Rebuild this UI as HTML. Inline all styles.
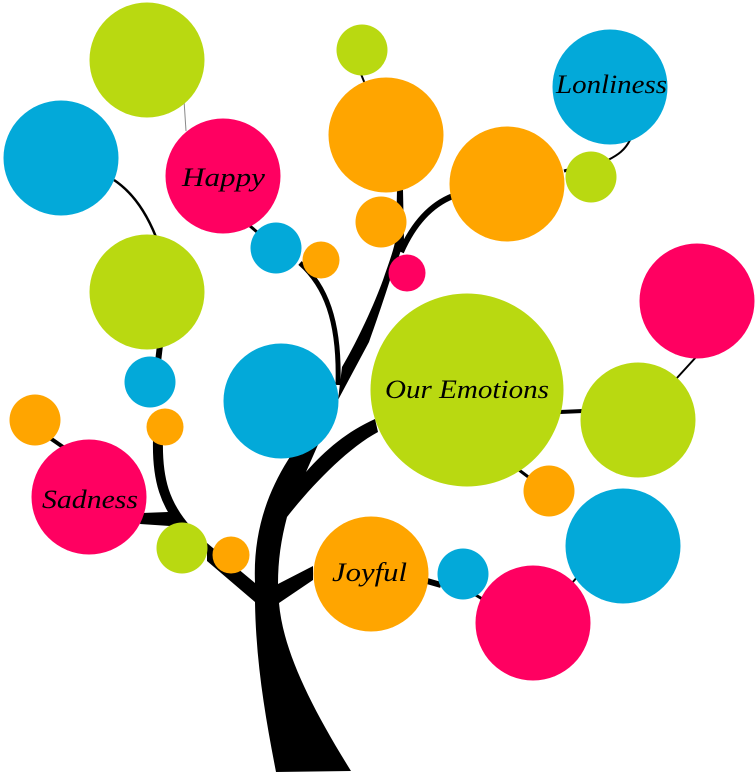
<!DOCTYPE html>
<html>
<head>
<meta charset="utf-8">
<style>
html,body{margin:0;padding:0;background:#fff;width:756px;height:773px;overflow:hidden}
svg{display:block}
text{font-family:"Liberation Serif",serif;font-style:italic;fill:#000;font-size:26px}
</style>
</head>
<body>
<svg width="756" height="773" viewBox="0 0 756 773" xmlns="http://www.w3.org/2000/svg">
<!-- trunk -->
<path fill="#000" d="M276 772 C266 720 256 665 255 602 L207 561 L207 543 L255 583 C253 535 266 495 288 460 L300 440 L338 400 L317 447 L306 472 C325 450 348 431 375 419 L378 432 C348 448 312 485 287 517 C281 540 278 560 278 584 L313 566 L313 580 L279 603 C283 650 310 705 351 771 Z"/>
<!-- main upper branch -->
<path fill="#000" d="M338 400 L342 367 C355 345 372 310 383 280 C388 265 394 250 396 237 L397 190 L403 190 L404 240 C400 255 394 270 390 280 C382 305 375 325 369 342 Z"/>
<path fill="none" stroke="#000" stroke-width="6" d="M401 252 C413 225 430 205 453 196"/>
<path fill="none" stroke="#000" stroke-width="5" d="M300 263 C325 285 340 320 338 385"/>
<!-- left branches -->
<path fill="none" stroke="#000" stroke-width="10" d="M158 440 C157 480 165 505 187 530"/>
<path fill="none" stroke="#000" stroke-width="6" d="M160 345 L158 362"/>
<path fill="#000" d="M142 513 L168 512 L183 523 L170 526 L140 524 Z"/>
<path fill="none" stroke="#000" stroke-width="4" d="M50 438 L63 447"/>
<path fill="none" stroke="#000" stroke-width="2.5" d="M114 180 C132 192 146 212 156 237"/>
<path fill="none" stroke="#888" stroke-width="1" d="M184 100 L186 131"/>
<path fill="none" stroke="#000" stroke-width="2" d="M361 74 L365 84"/>
<path fill="none" stroke="#000" stroke-width="3" d="M250 226 L257 232"/>
<path fill="none" stroke="#000" stroke-width="2" d="M630 140 C625 150 618 155 608 160"/>
<path fill="none" stroke="#000" stroke-width="2" d="M697 356 L676 379"/>
<path fill="none" stroke="#000" stroke-width="4" d="M560 412 L583 411"/>
<path fill="none" stroke="#000" stroke-width="3" d="M519 470 L531 479"/>
<path fill="none" stroke="#000" stroke-width="6" d="M427 581 L441 585"/>
<path fill="none" stroke="#000" stroke-width="3" d="M474 594 L484 600"/>
<path fill="none" stroke="#000" stroke-width="2" d="M566 590 L578 576"/>
<path fill="none" stroke="#000" stroke-width="3" d="M564 171 L572 169"/>
<!-- circles -->
<g fill="#B9D911">
<circle cx="147" cy="60" r="57.5"/>
<circle cx="147" cy="292" r="57.5"/>
<circle cx="362" cy="50" r="25.5"/>
<circle cx="591" cy="177" r="25.5"/>
<circle cx="467" cy="390" r="96.5"/>
<circle cx="638" cy="420" r="57.5"/>
<circle cx="182" cy="548" r="25.5"/>
</g>
<g fill="#03A9D9">
<circle cx="61" cy="158" r="57.5"/>
<circle cx="276" cy="248" r="25.5"/>
<circle cx="610" cy="87" r="57.5"/>
<circle cx="623" cy="546" r="57.5"/>
<circle cx="463" cy="574" r="25.5"/>
<circle cx="281" cy="401" r="57.5"/>
<circle cx="150" cy="382" r="25.5"/>
</g>
<g fill="#FF0061">
<circle cx="223" cy="176" r="57.5"/>
<circle cx="407" cy="273" r="18.5"/>
<circle cx="697" cy="301" r="57.5"/>
<circle cx="533" cy="623" r="57.5"/>
<circle cx="89" cy="497" r="57.5"/>
</g>
<g fill="#FFA500">
<circle cx="321" cy="260" r="18.5"/>
<circle cx="386" cy="135" r="57.5"/>
<circle cx="381" cy="222" r="25.5"/>
<circle cx="507" cy="184" r="57.5"/>
<circle cx="549" cy="491" r="25.5"/>
<circle cx="371" cy="574" r="57.5"/>
<circle cx="165" cy="427" r="18.5"/>
<circle cx="35" cy="420" r="25.5"/>
<circle cx="231" cy="555" r="18.5"/>
</g>
<!-- labels -->
<text x="182" y="186" textLength="83" lengthAdjust="spacingAndGlyphs">Happy</text>
<text x="556" y="93" textLength="111" lengthAdjust="spacingAndGlyphs">Lonliness</text>
<text x="385" y="398" textLength="164" lengthAdjust="spacingAndGlyphs">Our Emotions</text>
<text x="332" y="581" textLength="75" lengthAdjust="spacingAndGlyphs">Joyful</text>
<text x="42" y="508" textLength="96" lengthAdjust="spacingAndGlyphs">Sadness</text>
</svg>
</body>
</html>
